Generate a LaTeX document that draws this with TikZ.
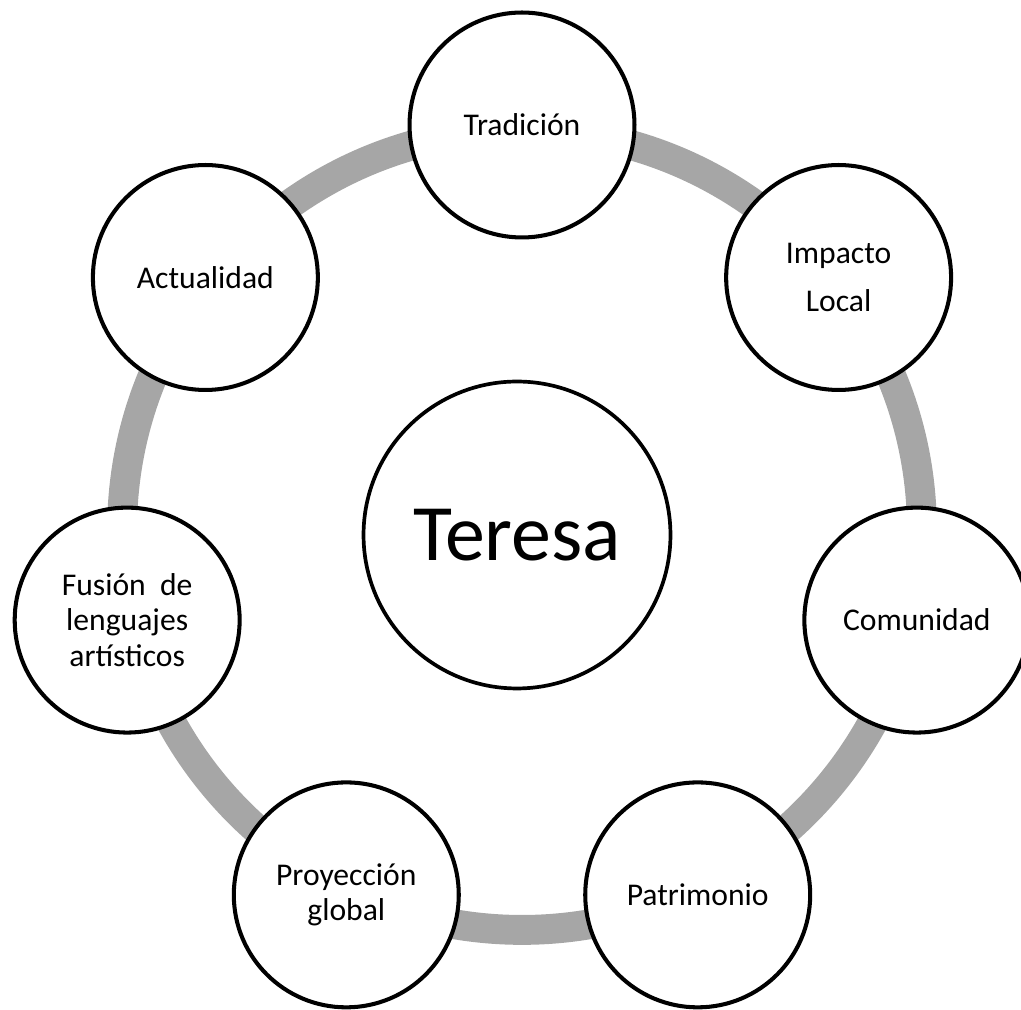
\documentclass[tikz,border=0pt]{standalone}
\usepackage{fontspec}
\setmainfont{Carlito}
\definecolor{ringgray}{HTML}{A6A6A6}

\begin{document}
\begin{tikzpicture}[x = 0.02cm, y = 0.02cm, font = \fontsize{18}{20}\selectfont,
  petal/.style = {circle, draw, line width = 2.3pt, fill = white, minimum size = 4.5cm, inner sep = 0pt, align = center}]
\useasboundingbox (0,0) rectangle (1021,1010);
\coordinate (hub) at (522,480);
\draw [ringgray, line width = 17pt] (hub) circle (8cm);
\node [circle, draw, line width = 2.1pt, fill = white, minimum size = 6.14cm, inner sep = 0pt, font = \fontsize{45.5}{50}\selectfont] (teresa) at (517,475) {Teresa};
\foreach \nm/\ang/\txt in {tradicion/90/Tradición,
  impacto/38.571/{Impacto\\[7pt]Local},
  comunidad/-12.857/Comunidad,
  patrimonio/-64.286/Patrimonio,
  proyeccion/-115.714/{Proyección\\global},
  fusion/-167.143/{Fusión\ \ de\\lenguajes\\artísticos},
  actualidad/141.429/Actualidad}
\node [petal] (\nm) at ([shift = {(\ang:405)}] hub) {\txt};
\end{tikzpicture}
\end{document}
